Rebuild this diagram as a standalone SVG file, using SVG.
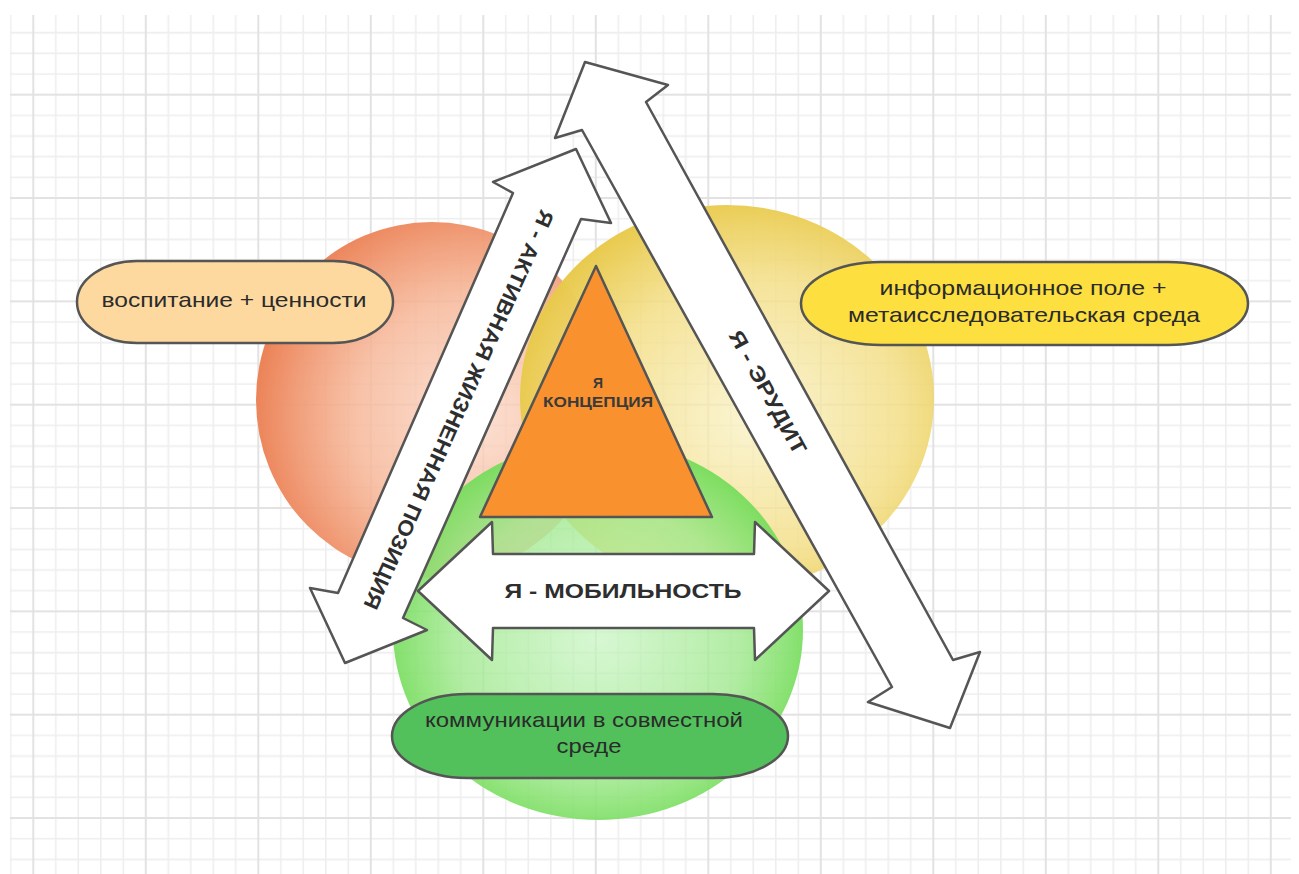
<svg xmlns="http://www.w3.org/2000/svg" width="1299" height="874" viewBox="0 0 1299 874">
<defs>
<style>
.minor{stroke:#eeeeee;stroke-width:1.6;fill:none}
.major{stroke:#e2e2e2;stroke-width:2;fill:none}
.outline{stroke:#555555;stroke-width:2.5;stroke-linejoin:round}
.arrow{fill:#ffffff}
.lbl{font-family:"Liberation Sans",Arial,sans-serif;font-size:21px;fill:#2b2b2b;text-anchor:middle}
.atxt{font-family:"Liberation Sans",Arial,sans-serif;font-size:21px;font-weight:bold;fill:#2e2e2e;text-anchor:middle;dominant-baseline:central}
.ttxt{font-family:"Liberation Sans",Arial,sans-serif;font-size:14px;font-weight:bold;fill:#3a3a3a;text-anchor:middle}
</style>
<pattern id="grid" x="32.3" y="93.7" width="112.5" height="103.333" patternUnits="userSpaceOnUse">
<path class="minor" d="M23.5 0V103.333M46 0V103.333M68.5 0V103.333M91 0V103.333M0 21.67H112.5M0 42.33H112.5M0 63H112.5M0 83.67H112.5"/>
<path class="major" d="M1 0V103.333M0 1H112.5"/>
</pattern>
<radialGradient id="gRed" cx="0.62" cy="0.55" r="0.62">
<stop offset="0" stop-color="#fbd6c4" stop-opacity="0.75"/>
<stop offset="0.55" stop-color="#f6b697" stop-opacity="0.85"/>
<stop offset="1" stop-color="#ec8459" stop-opacity="1"/>
</radialGradient>
<radialGradient id="gYellow" cx="0.56" cy="0.55" r="0.6">
<stop offset="0" stop-color="#f8efbd" stop-opacity="0.7"/>
<stop offset="0.6" stop-color="#f3de86" stop-opacity="0.85"/>
<stop offset="1" stop-color="#e7c744" stop-opacity="1"/>
</radialGradient>
<radialGradient id="gGreen" cx="0.5" cy="0.52" r="0.58">
<stop offset="0" stop-color="#c6f4c0" stop-opacity="0.7"/>
<stop offset="0.6" stop-color="#9fe88d" stop-opacity="0.8"/>
<stop offset="1" stop-color="#66d848" stop-opacity="1"/>
</radialGradient>
</defs>
<rect width="1299" height="874" fill="#ffffff"/>
<rect x="10" y="15" width="1281" height="859" fill="url(#grid)"/>

<g id="circles">
<ellipse id="circle-red" cx="432" cy="400" rx="176" ry="178" fill="url(#gRed)"/>
<ellipse id="circle-yellow" cx="727" cy="398" rx="207" ry="193" fill="url(#gYellow)"/>
<ellipse id="circle-green" cx="598" cy="630" rx="205" ry="190" fill="url(#gGreen)"/>
</g>

<g id="node-vospitanie">
<rect class="outline" x="77" y="261" width="316" height="82" rx="60" ry="41" fill="#fdd9a0"/>
<text class="lbl" x="234" y="307" textLength="265" lengthAdjust="spacingAndGlyphs">воспитание + ценности</text>
</g>

<g id="node-inform">
<rect class="outline" x="801" y="262" width="447" height="83" rx="80" ry="41.5" fill="#fde03f"/>
<text class="lbl" x="1023" y="295" textLength="287" lengthAdjust="spacingAndGlyphs">информационное поле +</text>
<text class="lbl" x="1024" y="322" textLength="352" lengthAdjust="spacingAndGlyphs">метаисследовательская среда</text>
</g>

<g id="node-kommunikacii">
<rect class="outline" x="392" y="694" width="396" height="84" rx="75" ry="42" fill="#52c15b"/>
<text class="lbl" x="584" y="727" textLength="318" lengthAdjust="spacingAndGlyphs">коммуникации в совместной</text>
<text class="lbl" x="589" y="753" textLength="65" lengthAdjust="spacingAndGlyphs">среде</text>
</g>

<g id="node-koncepciya">
<polygon class="outline" points="596,266 712,517 480,517" fill="#f9922e"/>
<text class="ttxt" x="598" y="388">Я</text>
<text class="ttxt" x="598" y="407" textLength="110" lengthAdjust="spacingAndGlyphs">КОНЦЕПЦИЯ</text>
</g>

<g id="connectors">
<g id="arrow-mobilnost">
<polygon class="outline arrow" points="418,591 492,522 493,554 754,554 755,522 829,591 755,660 754,628 493,628 492,660"/>
<text class="atxt" x="623" y="590" textLength="237" lengthAdjust="spacingAndGlyphs">Я - МОБИЛЬНОСТЬ</text>
</g>
<g id="arrow-aktivnaya">
<polygon class="outline arrow" points="576,149 611,223 581,219 403,618 427,630 345,663 310,588 338,593 513,193 493,182"/>
<text class="atxt" transform="translate(459,410) rotate(114.2)" textLength="435" lengthAdjust="spacingAndGlyphs">Я - АКТИВНАЯ ЖИЗНЕННАЯ ПОЗИЦИЯ</text>
</g>
<g id="arrow-erudit">
<polygon class="outline arrow" points="585,62 668,85 646,102 953,660 980,652 950,728 868,702 892,687 582,130 555,138"/>
<text class="atxt" transform="translate(768,392) rotate(61.2)" textLength="138" lengthAdjust="spacingAndGlyphs">Я - ЭРУДИТ</text>
</g>
</g>
</svg>
